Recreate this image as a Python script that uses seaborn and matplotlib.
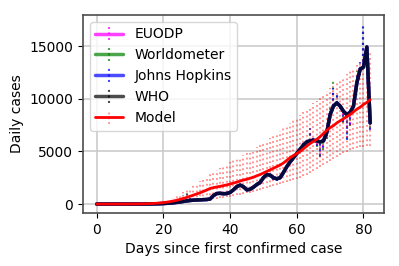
import numpy as np
import seaborn as sns
import matplotlib
matplotlib.use("Agg")
import matplotlib.pyplot as plt

# days since first confirmed case
days = list(range(83))

# smoothed daily cases (the thick line, shared by all sources)
smooth = [0, 0, 0, 0, 0, 0, 0, 0, 0, 0,
          0, 0, 0, 0, 0, 5, 10, 15, 25, 35,
          50, 70, 90, 120, 160, 200, 250, 300, 340, 370,
          390, 400, 420, 430, 480, 800, 1000, 1020, 980, 1000,
          1100, 1350, 1650, 1800, 1650, 1350, 1400, 1600, 1850, 2050,
          2500, 2800, 2750, 2500, 2400, 2500, 3000, 3550, 4000, 4400,
          4800, 5200, 5600, 5900, 6000, 6050, 6000, 5900, 6000, 6800,
          8500, 9300, 9600, 9300, 8800, 8500, 8700, 9300, 11500, 12800,
          13000, 14900, 7700]

# raw daily cases per source
euodp = [0, 0, 0, 0, 0, 0, 0, 0, 0, 0,
         0, 0, 0, 0, 0, 0, 15, 10, 30, 40,
         45, 80, 80, 130, 150, 220, 230, 330, 310, 400,
         370, 430, 400, 460, 420, 880, 1100, 980, 920, 1030,
         1050, 1380, 1750, 1900, 1550, 1250, 1450, 1550, 1950, 1950,
         2650, 2850, 2650, 2350, 2250, 2650, 3050, 3700, 3950, 4550,
         5000, 5100, 5800, 6200, 7000, 6400, 5600, 4700, 5400, 6400,
         8900, 10800, 10400, 9100, 7900, 6300, 7600, 9100, 12300, 13400,
         16500, 14900, 7100]
worldometer = [0, 0, 0, 0, 0, 0, 0, 0, 0, 0,
               0, 0, 0, 0, 0, 0, 20, 10, 30, 40,
               40, 90, 70, 130, 150, 230, 200, 350, 300, 420,
               350, 450, 380, 470, 400, 900, 1150, 950, 900, 1050,
               1000, 1400, 1800, 1950, 1500, 1200, 1500, 1500, 2000, 1900,
               2900, 2900, 2600, 2300, 2200, 2700, 3100, 3800, 3900, 4600,
               5000, 5100, 6000, 6200, 7000, 6600, 5400, 4600, 5100, 6200,
               9200, 11800, 10400, 9200, 7700, 6200, 7400, 9100, 12600, 13300,
               16800, 15100, 7200]
johns_hopkins = [0, 0, 0, 0, 0, 0, 0, 0, 0, 0,
                 0, 0, 0, 0, 0, 0, 20, 10, 30, 40,
                 40, 90, 70, 130, 150, 230, 200, 350, 300, 420,
                 350, 450, 380, 470, 400, 900, 1150, 950, 900, 1050,
                 1000, 1400, 1800, 1950, 1500, 1200, 1500, 1500, 2000, 1900,
                 2700, 2900, 2600, 2300, 2200, 2700, 3100, 3800, 3900, 4600,
                 5100, 5000, 5900, 6300, 7200, 6500, 5500, 4500, 5300, 6500,
                 9000, 11000, 10600, 9000, 7800, 6100, 7500, 9000, 12500, 13500,
                 17100, 15000, 7000]
who = [0, 0, 0, 0, 0, 0, 0, 0, 0, 0,
       0, 0, 0, 0, 0, 0, 0, 20, 10, 30,
       50, 40, 100, 90, 150, 300, 900, 1300, 700, 350,
       380, 420, 450, 400, 460, 700, 1050, 1000, 950, 980,
       1080, 1300, 1600, 1850, 1700, 1300, 1350, 1650, 1800, 2100,
       2450, 2850, 2700, 2450, 2350, 2550, 2950, 3500, 4050, 4350,
       4850, 5250, 5550, 6000, 6100, 6000, 6050, 5800, 6100, 6700,
       8400, 9400, 9600, 9400, 8700, 8400, 8800, 9300, 11600, 12800,
       13100, 15000, 7700]

# model mean with lower / upper bounds
model = [0, 0, 0, 0, 0, 0, 0, 0, 5, 5,
         8, 10, 12, 15, 20, 30, 45, 60, 80, 110,
         140, 180, 230, 290, 360, 440, 530, 630, 740, 850,
         960, 1070, 1200, 1330, 1480, 1560, 1620, 1680, 1750, 1820,
         1900, 1990, 2080, 2180, 2280, 2350, 2450, 2550, 2680, 2800,
         2950, 3100, 3250, 3400, 3550, 3700, 3900, 4150, 4400, 4600,
         4800, 5000, 5250, 5500, 5750, 5950, 6150, 6400, 6700, 7000,
         7250, 7450, 7700, 7900, 8100, 8300, 8500, 8750, 9000, 9200,
         9450, 9650, 9900]
model_low = [0, 0, 0, 0, 0, 0, 0, 0, 0, 0,
             0, 0, 0, 5, 5, 10, 10, 15, 20, 30,
             40, 50, 60, 70, 90, 110, 130, 150, 180, 200,
             230, 260, 300, 340, 400, 450, 500, 550, 600, 650,
             700, 760, 820, 880, 950, 1010, 1080, 1150, 1230, 1310,
             1400, 1490, 1580, 1680, 1780, 1880, 1980, 2080, 2180, 2280,
             2380, 2500, 2650, 2800, 2950, 3100, 3300, 3500, 3700, 3900,
             4100, 4300, 4500, 4650, 4800, 4950, 5100, 5200, 5300, 5400,
             5450, 5500, 5550]
model_high = [0, 0, 0, 0, 0, 0, 5, 5, 10, 10,
              15, 20, 30, 40, 55, 75, 100, 140, 190, 250,
              320, 400, 500, 620, 780, 950, 1130, 1330, 1550, 1780,
              2000, 2200, 2400, 2650, 2850, 3050, 3250, 3450, 3650, 3800,
              3950, 4150, 4300, 4500, 4650, 4850, 5050, 5250, 5450, 5650,
              5850, 6050, 6250, 6500, 6700, 6950, 7200, 7450, 7700, 7950,
              8250, 8500, 8750, 9000, 9300, 9550, 9800, 10100, 10400, 10700,
              11000, 11250, 11550, 11800, 12050, 12300, 12600, 12900, 13200, 13500,
              13800, 14050, 14300]

sns.set_style("ticks", {"axes.grid": True, "grid.color": "0.8",
                        "axes.edgecolor": "0.3", "text.color": "black",
                        "axes.labelcolor": "black", "xtick.color": "black",
                        "ytick.color": "black"})
plt.rcParams["font.family"] = ["DejaVu Sans"]
plt.rcParams["font.size"] = 10

fig, ax = plt.subplots(figsize=(3.99, 2.66), dpi=100)
fig.subplots_adjust(left=0.208, right=0.962, top=0.944, bottom=0.199)

x = np.array(days)
sm = np.array(smooth)

# each source: smoothed line with dotted bars reaching the raw numbers
sources = [("EUODP", euodp, "magenta", 0.75),
           ("Worldometer", worldometer, "green", 0.7),
           ("Johns Hopkins", johns_hopkins, "blue", 0.7),
           ("WHO", who, "black", 0.7)]
for name, raw, col, a in sources:
    raw = np.array(raw)
    err = [np.clip(sm - raw, 0, None), np.clip(raw - sm, 0, None)]
    eb = ax.errorbar(x, sm, yerr=err, color=col, alpha=a, lw=2.5,
                     elinewidth=1.5, label=name)
    eb[-1][0].set_linestyle(":")

m = np.array(model)
merr = [m - np.array(model_low), np.array(model_high) - m]
eb = ax.errorbar(x, m, yerr=merr, color="red", lw=2, elinewidth=1.3,
                 ecolor=(1, 0, 0, 0.45), label="Model")
eb[-1][0].set_linestyle(":")

ax.set_xlabel("Days since first confirmed case")
ax.set_ylabel("Daily cases")
ax.set_xticks([0, 20, 40, 60, 80])
ax.set_yticks([0, 5000, 10000, 15000])
ax.grid(True, lw=1.2)
for s in ax.spines.values():
    s.set_linewidth(1.2)
ax.legend(loc="upper left")

plt.savefig("out.png", dpi=100)
